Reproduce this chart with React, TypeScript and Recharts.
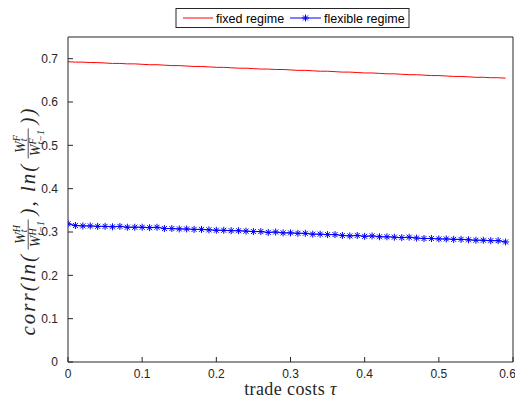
import React from 'react';
import { LineChart, Line, XAxis, YAxis, Customized } from 'recharts';

const tau = [
  0, 0.01, 0.02, 0.03, 0.04, 0.05, 0.06, 0.07, 0.08, 0.09,
  0.1, 0.11, 0.12, 0.13, 0.14, 0.15, 0.16, 0.17, 0.18, 0.19,
  0.2, 0.21, 0.22, 0.23, 0.24, 0.25, 0.26, 0.27, 0.28, 0.29,
  0.3, 0.31, 0.32, 0.33, 0.34, 0.35, 0.36, 0.37, 0.38, 0.39,
  0.4, 0.41, 0.42, 0.43, 0.44, 0.45, 0.46, 0.47, 0.48, 0.49,
  0.5, 0.51, 0.52, 0.53, 0.54, 0.55, 0.56, 0.57, 0.58, 0.59,
];

const fixedRegime = [
  0.693, 0.692, 0.692, 0.691, 0.691, 0.69, 0.689, 0.689, 0.688, 0.688,
  0.687, 0.686, 0.686, 0.685, 0.684, 0.684, 0.683, 0.682, 0.682, 0.681,
  0.68, 0.68, 0.679, 0.678, 0.678, 0.677, 0.676, 0.676, 0.675, 0.675,
  0.674, 0.673, 0.673, 0.672, 0.671, 0.671, 0.67, 0.669, 0.669, 0.668,
  0.667, 0.667, 0.666, 0.665, 0.665, 0.664, 0.663, 0.663, 0.662, 0.661,
  0.661, 0.66, 0.659, 0.659, 0.658, 0.657, 0.657, 0.656, 0.656, 0.655,
];

const flexibleRegime = [
  0.319, 0.315, 0.314, 0.314, 0.313, 0.313, 0.312, 0.313, 0.311, 0.311,
  0.311, 0.31, 0.311, 0.308, 0.308, 0.307, 0.307, 0.306, 0.306, 0.305,
  0.304, 0.304, 0.303, 0.303, 0.302, 0.301, 0.301, 0.299, 0.3, 0.298,
  0.298, 0.297, 0.297, 0.295, 0.295, 0.294, 0.294, 0.292, 0.291, 0.292,
  0.29, 0.291, 0.289, 0.289, 0.288, 0.287, 0.288, 0.286, 0.285, 0.285,
  0.284, 0.284, 0.283, 0.283, 0.282, 0.281, 0.281, 0.28, 0.28, 0.277,
];

const xTicks = [0, 0.1, 0.2, 0.3, 0.4, 0.5, 0.6];
const yTicks = [0, 0.1, 0.2, 0.3, 0.4, 0.5, 0.6, 0.7];
const seriesNames = ['fixed regime', 'flexible regime'];

const data = tau.map((t, i) => ({ tau: t, fixed: fixedRegime[i], flexible: flexibleRegime[i] }));

const AX = '#262626';
const SANS = '"Liberation Sans", Arial, Helvetica, sans-serif';
const SERIF = '"Liberation Serif", "Times New Roman", serif';

const Star = (props: any) => {
  const { cx, cy, index } = props;
  if (cx == null || cy == null) return <g key={index} />;
  const r = 3.5;
  const d = 2.5;
  return (
    <g key={`s${index}`} stroke="#0000FF" strokeWidth={1}>
      <line x1={cx - r} y1={cy} x2={cx + r} y2={cy} />
      <line x1={cx} y1={cy - r} x2={cx} y2={cy + r} />
      <line x1={cx - d} y1={cy - d} x2={cx + d} y2={cy + d} />
      <line x1={cx - d} y1={cy + d} x2={cx + d} y2={cy - d} />
    </g>
  );
};

const FW = 30;

const Frac = ({ x, sup }: { x: number; sup: string }) => {
  const f = 14;
  const s = 10;
  const wW = 11.7;
  const numW = 19;
  const denW = 25.5;
  const it = { fontStyle: 'italic', fontFamily: SERIF, fill: AX } as any;
  return (
    <g>
      <text x={x + (FW - numW) / 2} y={-10} fontSize={f} {...it}>W</text>
      <text x={x + (FW - numW) / 2 + wW} y={-15} fontSize={s} {...it}>{sup}</text>
      <text x={x + (FW - numW) / 2 + wW} y={-8} fontSize={s} {...it}>t</text>
      <line x1={x} y1={-6.8} x2={x + FW} y2={-6.8} stroke={AX} strokeWidth={0.8} />
      <text x={x + (FW - denW) / 2} y={5} fontSize={f} {...it}>W</text>
      <text x={x + (FW - denW) / 2 + wW} y={1.2} fontSize={s} {...it}>{sup}</text>
      <text x={x + (FW - denW) / 2 + wW} y={8.5} fontSize={s} {...it}>t−1</text>
    </g>
  );
};

const Decorations = () => {
  const F = 21;
  const w1 = 82;
  const w2 = 53;
  const w3 = 18;
  const gap = 4;
  const total = w1 + gap + FW + gap + w2 + gap + FW + gap + w3;
  const x0 = -total / 2;
  const xf1 = x0 + w1 + gap;
  const xt2 = xf1 + FW + gap;
  const xf2 = xt2 + w2 + gap;
  const xt3 = xf2 + FW + gap;
  const main = { fontSize: F, fontStyle: 'italic', fontFamily: SERIF, fill: AX, letterSpacing: 2 } as any;
  return (
    <g>
      {/* Y label */}
      <g transform="translate(27,213) rotate(-90)">
        <text x={x0} y={0} {...main}>corr(ln(</text>
        <Frac x={xf1} sup="H" />
        <text x={xt2} y={0} {...main}>), ln(</text>
        <Frac x={xf2} sup="F" />
        <text x={xt3} y={0} {...main}>))</text>
      </g>
      {/* X label */}
      <text x={282.5} y={387} textAnchor="middle" fontSize={18} letterSpacing={0.4} fontFamily={SERIF} fill={AX}>
        trade costs <tspan fontStyle="italic">τ</tspan>
      </text>
      {/* Legend */}
      <rect x={168} y={0.5} width={233} height={19} fill="#ffffff" stroke={AX} strokeWidth={1} />
      <line x1={175} y1={10} x2={205} y2={10} stroke="#FF0000" strokeWidth={1} />
      <text x={208} y={14.5} fontSize={12.5} fontFamily={SANS} fill="#000">{seriesNames[0]}</text>
      <line x1={282} y1={10} x2={313} y2={10} stroke="#0000FF" strokeWidth={1} />
      <Star cx={297.5} cy={10} index={999} />
      <text x={316} y={14.5} fontSize={12.5} fontFamily={SANS} fill="#000">{seriesNames[1]}</text>
    </g>
  );
};

export default function App() {
  return (
    <div style={{ width: 507, height: 391 }}>
      <LineChart
        width={507}
        height={391}
        data={data}
        margin={{ top: 28, right: 1, bottom: 0, left: 0 }}
      >
        <XAxis
          xAxisId="bottom"
          dataKey="tau"
          type="number"
          domain={[0, 0.6]}
          ticks={xTicks}
          orientation="bottom"
          height={37}
          tickSize={-5}
          tickMargin={12}
          axisLine={{ stroke: AX, strokeWidth: 1 }}
          tickLine={{ stroke: AX, strokeWidth: 1 }}
          tick={{ fill: AX, fontSize: 12, fontFamily: SANS }}
          allowDataOverflow
        />
        <XAxis
          xAxisId="top"
          dataKey="tau"
          type="number"
          domain={[0, 0.6]}
          ticks={xTicks}
          orientation="top"
          height={1}
          tickSize={-5}
          tick={false}
          axisLine={{ stroke: AX, strokeWidth: 1 }}
          tickLine={{ stroke: AX, strokeWidth: 1 }}
          allowDataOverflow
        />
        <YAxis
          yAxisId="left"
          type="number"
          domain={[0, 0.75]}
          ticks={yTicks}
          orientation="left"
          width={60}
          tickSize={-5}
          tickMargin={15}
          axisLine={{ stroke: AX, strokeWidth: 1 }}
          tickLine={{ stroke: AX, strokeWidth: 1 }}
          tick={{ fill: AX, fontSize: 12, fontFamily: SANS }}
          allowDataOverflow
        />
        <YAxis
          yAxisId="right"
          type="number"
          domain={[0, 0.75]}
          ticks={yTicks}
          orientation="right"
          width={1}
          tickSize={-5}
          tick={false}
          axisLine={{ stroke: AX, strokeWidth: 1 }}
          tickLine={{ stroke: AX, strokeWidth: 1 }}
          allowDataOverflow
        />
        <Line
          xAxisId="bottom"
          yAxisId="left"
          dataKey="fixed"
          name={seriesNames[0]}
          stroke="#FF0000"
          strokeWidth={1}
          dot={false}
          activeDot={false}
          isAnimationActive={false}
        />
        <Line
          xAxisId="bottom"
          yAxisId="left"
          dataKey="flexible"
          name={seriesNames[1]}
          stroke="#0000FF"
          strokeWidth={1}
          dot={(p: any) => <Star key={`d${p.index}`} {...p} />}
          activeDot={false}
          isAnimationActive={false}
        />
        <Customized component={Decorations} />
      </LineChart>
    </div>
  );
}
